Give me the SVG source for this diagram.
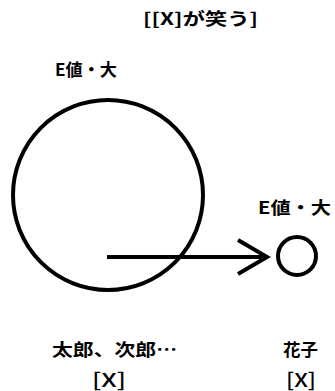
<svg xmlns="http://www.w3.org/2000/svg" width="335" height="391" viewBox="0 0 335 391">
<style>
.t{font-family:"Noto Sans CJK JP","Noto Sans",sans-serif;font-size:17px;font-weight:bold;fill:#000}
.b{font-weight:500;font-size:19px}
.s{fill:none;stroke:#000;stroke-width:4}
</style>
<rect width="335" height="391" fill="#fff"/>
<text id="title" class="t" x="143" y="25" textLength="115" lengthAdjust="spacingAndGlyphs">[[X]が笑う]</text>
<g id="big">
<circle class="s" cx="108" cy="195" r="95"/>
<text class="t" x="55" y="76" textLength="62" lengthAdjust="spacingAndGlyphs">E値・大</text>
<text class="t" x="52" y="356" textLength="125" lengthAdjust="spacingAndGlyphs">太郎、次郎…</text>
<text class="t b" x="92" y="387" textLength="34" lengthAdjust="spacingAndGlyphs">[X]</text>
</g>
<g id="small">
<circle class="s" cx="297" cy="256" r="19"/>
<text class="t" x="258" y="214" textLength="73" lengthAdjust="spacingAndGlyphs">E値・大</text>
<text class="t" x="283" y="356" textLength="35" lengthAdjust="spacingAndGlyphs">花子</text>
<text class="t b" x="286" y="387" textLength="30" lengthAdjust="spacingAndGlyphs">[X]</text>
</g>
<g id="connectors">
<line class="s" x1="107" y1="257" x2="267" y2="257"/>
<polyline class="s" points="238,240 267,257 238,274"/>
</g>
</svg>
